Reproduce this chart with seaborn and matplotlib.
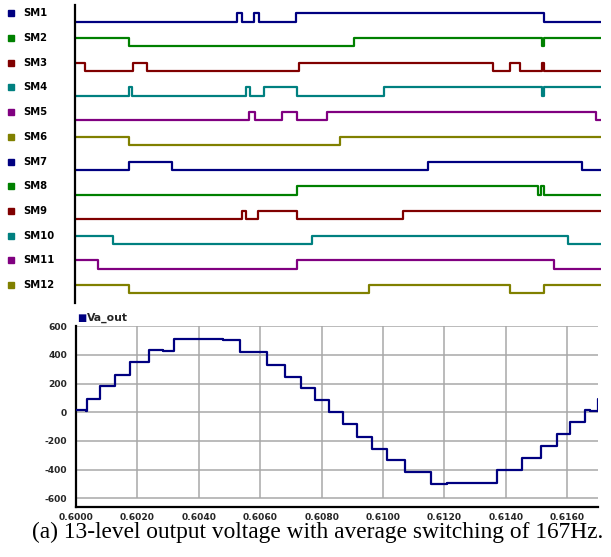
import numpy as np
import pandas as pd
import matplotlib
matplotlib.use("Agg")
import matplotlib.pyplot as plt
import seaborn as sns

# ---------------- data ----------------
T_START, T_END = 0.6000, 0.6170

sm_names = ["SM1", "SM2", "SM3", "SM4", "SM5", "SM6",
            "SM7", "SM8", "SM9", "SM10", "SM11", "SM12"]
sm_colors = ["#000080", "#008000", "#800000", "#008080", "#800080", "#808000",
             "#000080", "#008000", "#800000", "#008080", "#800080", "#808000"]
# initial gate state (1 = high) at t = 0.6000
sm_init = [0, 1, 1, 0, 0, 1, 0, 0, 0, 1, 1, 1]
# switching instants (s) for each submodule
sm1_edges = [0.60525, 0.60540, 0.60579, 0.60595, 0.60714, 0.61516]
sm2_edges = [0.60175, 0.60902, 0.61509, 0.61516]
sm3_edges = [0.60032, 0.60186, 0.60234, 0.60723, 0.61352, 0.61406, 0.61438, 0.61509, 0.61516]
sm4_edges = [0.60174, 0.60184, 0.60552, 0.60566, 0.60612, 0.60717, 0.60999, 0.61509, 0.61516]
sm5_edges = [0.60563, 0.60582, 0.60668, 0.60717, 0.60813, 0.61683]
sm6_edges = [0.60175, 0.60857]
sm7_edges = [0.60175, 0.60314, 0.61142, 0.61639]
sm8_edges = [0.60717, 0.61495, 0.61506, 0.61516]
sm9_edges = [0.60539, 0.60553, 0.60592, 0.60717, 0.61059]
sm10_edges = [0.60124, 0.60767, 0.61594]
sm11_edges = [0.60075, 0.60717, 0.61548]
sm12_edges = [0.60175, 0.60949, 0.61406, 0.61516]
sm_edges = [sm1_edges, sm2_edges, sm3_edges, sm4_edges, sm5_edges, sm6_edges,
            sm7_edges, sm8_edges, sm9_edges, sm10_edges, sm11_edges, sm12_edges]

# output voltage (step instants and levels, V)
va_t = [0.60000, 0.60033, 0.60037, 0.60078, 0.60127, 0.60176, 0.60238, 0.60284,
        0.60320, 0.60393, 0.60480, 0.60534, 0.60621, 0.60681, 0.60733, 0.60778,
        0.60825, 0.60869, 0.60916, 0.60963, 0.61012, 0.61071, 0.61156, 0.61207,
        0.61294, 0.61370, 0.61452, 0.61513, 0.61566, 0.61609, 0.61658, 0.61674,
        0.61699]
va_v = [15, 8, 95, 180, 262, 348, 433, 424, 512, 507, 503, 417, 331, 248, 171, 83,
        0, -83, -169, -253, -336, -419, -500, -496, -491, -400, -317, -236, -148,
        -65, 18, 12, 95]

y_ticks = [600, 400, 200, 0, -200, -400, -600]
x_ticks = [0.6000, 0.6020, 0.6040, 0.6060, 0.6080, 0.6100, 0.6120, 0.6140, 0.6160]
caption = "(a) 13-level output voltage with average switching of 167Hz."

# ---------------- style ----------------
sns.set_style("white")
plt.rcParams["font.family"] = ["DejaVu Sans"]

W, H = 611, 557
fig = plt.figure(figsize=(W / 100, H / 100), dpi=100)


def px_axes(left, top, right, bottom):
    return fig.add_axes([left / W, 1 - bottom / H, (right - left) / W, (bottom - top) / H])


# ---------------- top: gate signals ----------------
AMP = 0.336
ax1 = px_axes(75, 5, 601, 303)
rows = []
for i, (name, init, edges) in enumerate(zip(sm_names, sm_init, sm_edges)):
    times = [T_START] + edges + [T_END]
    state = init
    states = []
    for _ in range(len(edges) + 1):
        states.append(state)
        state = 1 - state
    states.append(states[-1])
    for t, s in zip(times, states):
        rows.append({"t": t, "level": -i + AMP * s, "name": name})
df_sm = pd.DataFrame(rows)
sns.lineplot(data=df_sm, x="t", y="level", hue="name", palette=dict(zip(sm_names, sm_colors)),
             drawstyle="steps-post", estimator=None, sort=False, legend=False,
             linewidth=1.6, ax=ax1)
ax1.set_xlim(T_START, T_END)
ax1.set_ylim(-11.39, 0.676)
for s in ["top", "right", "bottom"]:
    ax1.spines[s].set_visible(False)
ax1.spines["left"].set_color("black")
ax1.spines["left"].set_linewidth(1.6)
ax1.set_xticks([])
ax1.set_yticks([])
ax1.set_xlabel("")
ax1.set_ylabel("")
tr = ax1.get_yaxis_transform()
for i, (name, col) in enumerate(zip(sm_names, sm_colors)):
    yl = -i + AMP
    ax1.plot([-0.1217], [yl], marker="s", markersize=5, color=col, transform=tr, clip_on=False)
    ax1.text(-0.0989, yl, name, transform=tr, fontsize=7.2, fontweight="bold",
             va="center", ha="left", color="black", clip_on=False)

# ---------------- bottom: output voltage ----------------
ax2 = px_axes(76, 326, 598, 507)
va_tt = va_t + [T_END]
va_vv = va_v + [va_v[-1]]
df_va = pd.DataFrame({"t": va_tt, "v": va_vv})
ax2.hlines(y_ticks, T_START, T_END, color="#a8a8a8", linewidth=1.1, zorder=0)
ax2.vlines(x_ticks[1:], -600, 600, color="#a8a8a8", linewidth=1.1, zorder=0)
sns.lineplot(data=df_va, x="t", y="v", drawstyle="steps-post", estimator=None, sort=False,
             color="#000080", linewidth=1.6, ax=ax2, zorder=3)
ax2.set_xlim(T_START, T_END)
ax2.set_ylim(-660, 601)
for s in ["top", "right"]:
    ax2.spines[s].set_visible(False)
for s in ["left", "bottom"]:
    ax2.spines[s].set_color("black")
    ax2.spines[s].set_linewidth(1.6)
ax2.set_yticks(y_ticks)
ax2.set_yticklabels([str(v) for v in y_ticks], fontsize=6.6, fontweight="bold")
ax2.set_xticks(x_ticks)
ax2.set_xticklabels([f"{v:.4f}" for v in x_ticks], fontsize=6.6, fontweight="bold")
ax2.tick_params(axis="y", direction="out", length=4.5, width=1.2, pad=2, color="black")
ax2.tick_params(axis="x", direction="out", length=2, width=1.2, pad=2, color="black")
ax2.set_xlabel("")
ax2.set_ylabel("")

# legend for Va_out
fig.text(81.5 / W, 1 - 318 / H, "\u25A0", fontsize=7, color="#000080", ha="center", va="center")
fig.text(87 / W, 1 - 318 / H, "Va_out", fontsize=7.8, fontweight="bold", ha="left", va="center")

# caption
fig.text(318 / W, 1 - 538 / H, caption, fontsize=16.8, family=["Liberation Serif", "DejaVu Serif"],
         ha="center", va="baseline", color="black")

fig.savefig("out.png", dpi=100)
